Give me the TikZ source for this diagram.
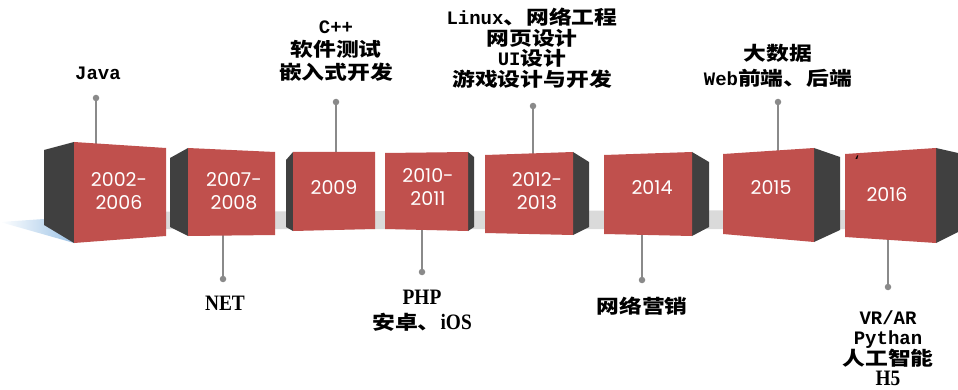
\documentclass[tikz,border=0pt]{standalone}
\usepackage{fontspec}
\setmainfont{Liberation Mono}
\newfontfamily\cjk[FakeStretch=1.2]{Noto Sans CJK SC}
\newfontfamily\ser[FakeStretch=0.88]{Liberation Serif}
\newfontfamily\yearfont{Poppins}
\newcommand\zh[1]{{\cjk #1}}
\newcommand\sr[1]{{\ser\fontsize{22}{22}\selectfont #1}}

\definecolor{cubered}{HTML}{C0504D}
\definecolor{cubedark}{HTML}{404040}
\definecolor{linegray}{HTML}{8A8A8A}
\definecolor{floorgray}{HTML}{DADADA}
\definecolor{shadowblue}{HTML}{9DC3E6}

\tikzset{
  front/.style={fill=cubered},
  sideface/.style={fill=cubedark},
  link/.style={draw=linegray, line width=1.3pt},
  dot/.style={circle, fill=linegray, inner sep=0pt, minimum size=6.5pt},
  lab/.style={align=center, text=black, inner sep=0pt,
    font=\bfseries\fontsize{19}{21}\selectfont},
  yr/.style={align=center, text=white, inner sep=0pt,
    font=\yearfont\fontsize{19}{23}\selectfont},
}

\begin{document}
\begin{tikzpicture}[x=1pt, y=-1pt]
\useasboundingbox (0,0) rectangle (958,390);

% floor strip behind the blocks
\fill[floorgray] (44,212) -- (850,210) -- (850,229) -- (44,229) -- cycle;
% blue shadow of the first block
\shade[left color=white, right color=shadowblue]
  (0,222) -- (44,219) -- (74,243) -- cycle;

% attachment points on the block edges and dot positions
\coordinate (p1) at (96,98);   \coordinate (c1) at (96,144);
\coordinate (p3) at (336,102); \coordinate (c3) at (336,153);
\coordinate (p5) at (533,106); \coordinate (c5) at (533,154);
\coordinate (p7) at (778,102); \coordinate (c7) at (778,151);
\coordinate (p2) at (223,279); \coordinate (c2) at (223,234);
\coordinate (p4) at (422,272); \coordinate (c4) at (422,229);
\coordinate (p6) at (642,280); \coordinate (c6) at (642,234);
\coordinate (p8) at (888,287); \coordinate (c8) at (888,239);

\foreach \i in {1,...,8} \draw[link] (p\i) -- (c\i);

% blocks: side face and front face
\fill[sideface] (44,150) -- (74,142) -- (74,243) -- (44,225) -- cycle;
\fill[front] (74,142) -- (166,148) -- (166,236) -- (74,243) -- cycle;

\fill[sideface] (170,158) -- (188,148) -- (188,236) -- (170,227) -- cycle;
\fill[front] (188,148) -- (275,152) -- (275,235) -- (188,236) -- cycle;

\fill[sideface] (286,160) -- (293,152) -- (293,231) -- (286,227) -- cycle;
\fill[front] (293,152) -- (375,152) -- (375,229) -- (293,231) -- cycle;

\fill[sideface] (468,152) -- (474,157) -- (474,227) -- (468,231) -- cycle;
\fill[front] (385,153) -- (468,152) -- (468,231) -- (385,229) -- cycle;

\fill[sideface] (573,152) -- (589,162) -- (589,227) -- (573,235) -- cycle;
\fill[front] (485,155) -- (573,152) -- (573,235) -- (485,233) -- cycle;

\fill[sideface] (692,152) -- (709,162) -- (709,227) -- (692,236) -- cycle;
\fill[front] (604,155) -- (692,152) -- (692,236) -- (604,234) -- cycle;

\fill[sideface] (814,148) -- (840,157) -- (840,230) -- (814,242) -- cycle;
\fill[front] (723,154) -- (814,148) -- (814,242) -- (723,234) -- cycle;

\fill[sideface] (936,148) -- (958,153) -- (958,232) -- (936,243) -- cycle;
\fill[front] (845,154) -- (936,148) -- (936,243) -- (845,237) -- cycle;

% years
\node[yr] (y1) at (119,191) {2002-\\2006};
\node[yr] (y2) at (234,191) {2007-\\2008};
\node[yr] (y3) at (334,188) {2009};
\node[yr] (y4) at (428,187) {2010-\\2011};
\node[yr] (y5) at (537,191) {2012-\\2013};
\node[yr] (y6) at (652,188) {2014};
\node[yr] (y7) at (771,188) {2015};
\node[yr] (y8) at (887,195) {2016};
\node[inner sep=0pt, font=\bfseries\fontsize{12}{12}\selectfont] (tick) at (857,160) {\symbol{"60}};

% dots at the free ends of the connectors
\foreach \i in {1,...,8} \node[dot] (d\i) at (p\i) {};

% labels
\node[lab] (l1) at (98,73) {Java};
\node[lab, font=\bfseries\fontsize{19}{23}\selectfont] (l3) at (336,51)
  {C++\\\zh{软件测试}\\\zh{嵌入式开发}};
\node[lab, font=\bfseries\fontsize{19}{20.5}\selectfont] (l5) at (532,48)
  {Linux\zh{、网络工程}\\\zh{网页设计}\\UI\zh{设计}\\\zh{游戏设计与开发}};
\node[lab, font=\bfseries\fontsize{19}{25}\selectfont] (l7) at (778,66)
  {\zh{大数据}\\Web\zh{前端、后端}};
\node[lab] (l2) at (225,303) {\sr{NET}};
\node[lab, font=\bfseries\fontsize{19}{25}\selectfont] (l4) at (422,311)
  {\sr{PHP}\\\zh{安卓、}\sr{iOS}};
\node[lab] (l6) at (642,306) {\zh{网络营销}};
\node[lab, font=\bfseries\fontsize{19}{20.5}\selectfont] (l8) at (888,348)
  {VR/AR\\Pythan\\\zh{人工智能}\\\sr{H5}};
\end{tikzpicture}
\end{document}
